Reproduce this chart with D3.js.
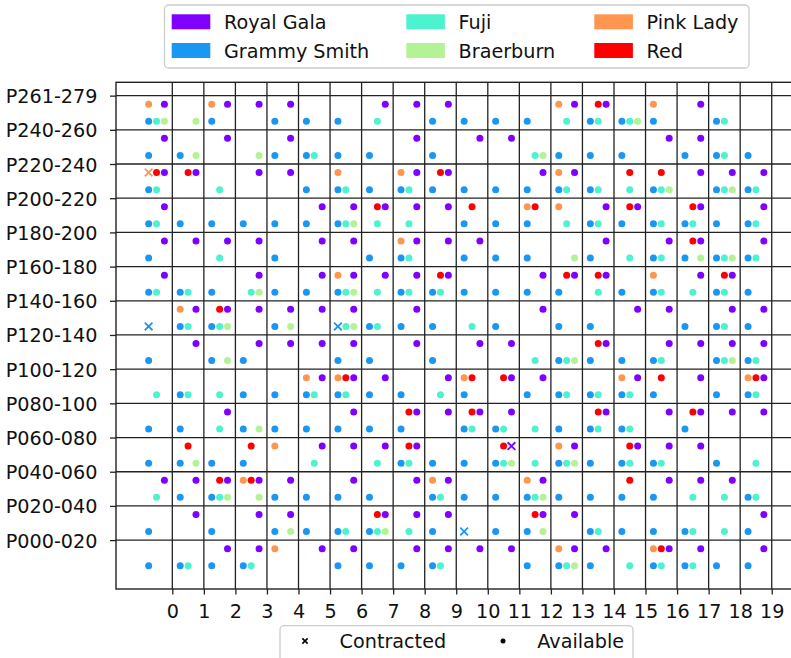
<!DOCTYPE html>
<html>
<head>
<meta charset="utf-8">
<script src="https://cdn.jsdelivr.net/npm/d3@7"></script>
<style>
  body { margin: 0; background: #fff; }
  svg { display: block; font-family: "DejaVu Sans", sans-serif; }
</style>
</head>
<body>
<svg id="chart" width="791" height="658"></svg>
<script>
// Plot rows (bottom to top) and column positions
const plots = ["P000-020", "P020-040", "P040-060", "P060-080", "P080-100", "P100-120",
  "P120-140", "P140-160", "P160-180", "P180-200", "P200-220", "P220-240", "P240-260", "P261-279"];
const columns = d3.range(20);

const varieties = ["Royal Gala", "Grammy Smith", "Fuji", "Braerburn", "Pink Lady", "Red"];
const colours = ["#8000ff", "#1a96f3", "#4df3ce", "#b3f396", "#ff964f", "#ff0000"];

// Occupied columns for each plot row, index 0 = P000-020
const royalGala = [
  [2,3,5,6,8,9,10,11,13,14,16,17,19],
  [1,3,4,7,8,9,12,13,19],
  [0,1,2,3,4,6,8,9,12,16,17,18],
  [5,6,7,8,11,13,15,16,17],
  [2,6,8,9,10,11,14,16,17,18,19],
  [5,6,7,9,11,12,15,17,19],
  [1,3,4,5,6,8,10,11,14,16,17,18,19],
  [1,2,3,4,5,6,8,12,15,16,18,19],
  [0,3,5,6,7,8,9,12,13,14,17,18],
  [0,1,2,3,5,6,8,9,10,14,16,17,19],
  [0,5,6,7,8,9,14,15,17,19],
  [0,1,3,4,8,9,12,13,17,18,19],
  [0,2,4,8,10,11,16,17],
  [0,2,3,4,7,8,9,13,14,17]
];
const grammySmith = [
  [0,1,2,3,6,7,8,9,12,13,14,16,17,18,19],
  [0,2,4,5,6,7,9,10,11,12,14,15,16,17,19],
  [1,2,4,5,6,7,9,10,11,12,13,14,15,16,19],
  [0,1,2,3,8,9,10,11,13,14,15,16,18],
  [0,1,3,4,5,6,7,8,10,11,13,14,15,17],
  [1,3,4,5,6,7,8,10,12,13,14,15,16,18,19],
  [0,2,3,6,7,9,13,14,15,16,18,19],
  [0,1,2,4,6,7,8,9,11,13,14,17,18,19],
  [0,1,2,4,5,6,8,9,10,11,12,13,15,16,18,19],
  [0,4,7,8,10,11,12,14,16,17,18,19],
  [0,1,2,3,4,5,6,10,11,12,14,15,16,17,18,19],
  [0,5,6,7,8,9,10,11,12,13,14,16,18,19],
  [0,1,4,5,6,7,9,13,14,15,17,18,19],
  [0,2,4,5,6,9,10,11,12,14,15,16,18]
];
const fuji = [
  [1,3,9,13,15,16,17],
  [6,7,8,14,17,18],
  [0,2,9,12,17,18,19],
  [5,7,8,11,12,13,15,16,19],
  [2,10,11,12,14,15],
  [0,1,2,5,6,9,13,14,15,19],
  [12,13,16,18,19],
  [1,2,6,7,10,18],
  [0,1,3,6,7,8,9,14,16,17,18],
  [2,8,15,16,18,19],
  [0,6,7,8,13,14,16,17,19],
  [0,2,6,8,13,14,15,16,18,19],
  [5,12,18],
  [0,7,13,14,15,18]
];
const braerburn = [
  [13], [4,7,12], [2,3,12], [1,11,13], [3], [], [2,13,18],
  [2,4,6], [3,6], [13,17,18], [6], [16,18], [1,3,12], [0,1,15]
];
const pinkLady = [
  [4,13,16], [], [3,9,12], [4,13], [], [5,6,10,15,19], [],
  [1], [6,16], [8], [12,13], [0,6,8,13], [], [0,2,13,16]
];
const red = [
  [16], [7,12], [2,3,15], [1,3,8,11,15], [8,10,14,17], [6,10,11,16,19], [14],
  [2], [9,13,14,18], [17], [7,10,12,15,17], [0,1,9,15,16], [], [14]
];
// Contracted slots: [variety, plot row, column]
const contracted = [
  ["Pink Lady", 11, 0],
  ["Grammy Smith", 7, 0],
  ["Grammy Smith", 7, 6],
  ["Royal Gala", 3, 11],
  ["Grammy Smith", 1, 10]
];

const statusLabels = ["Contracted", "Available"];

// Slot offsets inside each grid cell
const slot = {
  "Royal Gala":   { dx: -0.25, dy: -0.25 },
  "Red":          { dx: -0.50, dy: -0.25 },
  "Pink Lady":    { dx: -0.75, dy: -0.25 },
  "Braerburn":    { dx: -0.25, dy: -0.75 },
  "Fuji":         { dx: -0.50, dy: -0.75 },
  "Grammy Smith": { dx: -0.75, dy: -0.75 }
};

const byVariety = {
  "Royal Gala": royalGala, "Grammy Smith": grammySmith, "Fuji": fuji,
  "Braerburn": braerburn, "Pink Lady": pinkLady, "Red": red
};
const colour = d3.scaleOrdinal().domain(varieties).range(colours);

const isContracted = (v, r, c) => contracted.some(d => d[0] === v && d[1] === r && d[2] === c);

const points = [];
varieties.forEach(v => {
  byVariety[v].forEach((cols, r) => {
    cols.forEach(c => {
      points.push({ variety: v, x: c + slot[v].dx, y: r + slot[v].dy, contracted: isContracted(v, r, c) });
    });
  });
});

const svg = d3.select("#chart");
const L = 116, R = 794.6, T = 82.3, B = 589;
const x = d3.scaleLinear().domain([-1.785, 19.725]).range([L, R]);
const y = d3.scaleLinear().domain([-1.43, 13.39]).range([B, T]);

const ink = "#222";

// Grid
const grid = svg.append("g");
grid.selectAll("line.v").data(columns).join("line")
  .attr("x1", d => x(d)).attr("x2", d => x(d))
  .attr("y1", T).attr("y2", B)
  .attr("stroke", ink).attr("stroke-width", 1.3);
grid.selectAll("line.h").data(d3.range(plots.length)).join("line")
  .attr("x1", L).attr("x2", R)
  .attr("y1", d => y(d)).attr("y2", d => y(d))
  .attr("stroke", ink).attr("stroke-width", 1.3);

// Frame
svg.append("rect").attr("x", L).attr("y", T).attr("width", R - L).attr("height", B - T)
  .attr("fill", "none").attr("stroke", ink).attr("stroke-width", 1.4);

// Axes
const fs = 19.2;
const xAxis = svg.append("g").attr("transform", `translate(0,${B})`)
  .call(d3.axisBottom(x).tickValues(columns).tickSize(5.5).tickSizeOuter(0).tickFormat(d3.format("d")));
xAxis.select(".domain").remove();
xAxis.selectAll("line").attr("stroke", ink).attr("stroke-width", 1.3);
xAxis.selectAll("text").attr("y", 28.5).attr("dy", null)
  .attr("font-size", fs).attr("font-family", "DejaVu Sans").attr("fill", "#111");

const yAxis = svg.append("g").attr("transform", `translate(${L},0)`)
  .call(d3.axisLeft(y).tickValues(d3.range(plots.length)).tickSize(6).tickSizeOuter(0)
    .tickFormat(i => plots[i]));
yAxis.select(".domain").remove();
yAxis.selectAll("line").attr("stroke", ink).attr("stroke-width", 1.3);
yAxis.selectAll("text").attr("x", -18.5).attr("dy", "7px")
  .attr("font-size", fs).attr("font-family", "DejaVu Sans").attr("fill", "#111");

// Slots
const avail = points.filter(d => !d.contracted);
const taken = points.filter(d => d.contracted);
svg.append("g").selectAll("circle").data(avail).join("circle")
  .attr("cx", d => x(d.x)).attr("cy", d => y(d.y)).attr("r", 3.5)
  .attr("fill", d => colour(d.variety));
const cross = d3.symbol().type(d3.symbolX).size(40);
svg.append("g").selectAll("path").data(taken).join("path")
  .attr("transform", d => `translate(${x(d.x)},${y(d.y)})`)
  .attr("d", cross).attr("fill", "none")
  .attr("stroke", d => colour(d.variety)).attr("stroke-width", 1.8);

// Variety legend
const lg = svg.append("g");
lg.append("rect").attr("x", 164.5).attr("y", 5).attr("width", 584.5).attr("height", 63)
  .attr("rx", 4).attr("fill", "#fff").attr("stroke", "#ccc").attr("stroke-width", 1.3);
const colX = [171.7, 406.3, 594.3];
const rowY = [21.8, 50.5];
varieties.forEach((v, i) => {
  const cx = colX[Math.floor(i / 2)], cy = rowY[i % 2];
  lg.append("rect").attr("x", cx).attr("y", cy - 7.5).attr("width", 38.6).attr("height", 15)
    .attr("fill", colour(v));
  lg.append("text").attr("x", cx + 52.3).attr("y", cy + 7)
    .attr("font-size", fs).attr("fill", "#111").text(v);
});

// Status legend
const sg = svg.append("g");
sg.append("rect").attr("x", 280).attr("y", 625.7).attr("width", 353).attr("height", 60)
  .attr("rx", 4).attr("fill", "#fff").attr("stroke", "#ccc").attr("stroke-width", 1.3);
sg.append("path").attr("transform", "translate(305,641)")
  .attr("d", d3.symbol().type(d3.symbolX).size(20)).attr("fill", "none")
  .attr("stroke", "#000").attr("stroke-width", 1.6);
sg.append("circle").attr("cx", 503).attr("cy", 641).attr("r", 2.5).attr("fill", "#000");
sg.append("text").attr("x", 339.6).attr("y", 647.8).attr("font-size", fs).attr("fill", "#111").text(statusLabels[0]);
sg.append("text").attr("x", 537.3).attr("y", 647.8).attr("font-size", fs).attr("fill", "#111").text(statusLabels[1]);
</script>
</body>
</html>
